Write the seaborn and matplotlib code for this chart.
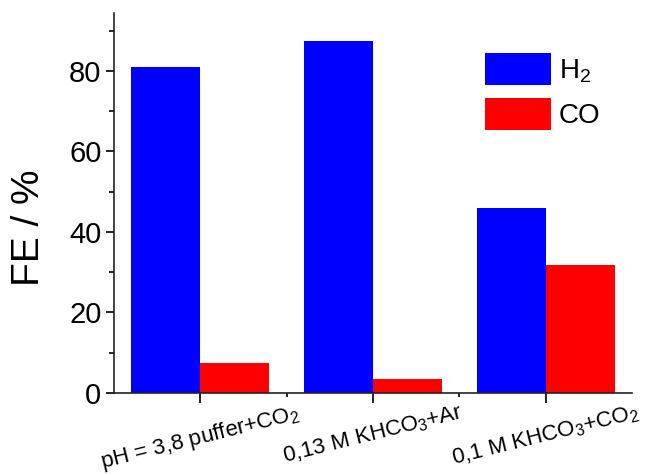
import matplotlib
matplotlib.use("Agg")
import matplotlib.pyplot as plt
import seaborn as sns
import pandas as pd
from matplotlib.ticker import MultipleLocator, FixedLocator

conditions = ["pH = 3,8 puffer+CO$_2$", "0,13 M KHCO$_3$+Ar", "0,1 M KHCO$_3$+CO$_2$"]
h2_values = [81.0, 87.5, 46.0]
co_values = [7.4, 3.5, 31.8]
series_names = ["H$_2$", "CO"]
colors = ["#0000ff", "#ff0000"]

df = pd.DataFrame({
    "condition": conditions * 2,
    "gas": [series_names[0]] * 3 + [series_names[1]] * 3,
    "FE": h2_values + co_values,
})

sns.set_style("ticks")
plt.rcParams["font.family"] = ["Liberation Sans", "DejaVu Sans"]
plt.rcParams["mathtext.default"] = "regular"
plt.rcParams["text.color"] = "black"
plt.rcParams["axes.labelcolor"] = "black"
plt.rcParams["xtick.color"] = "black"
plt.rcParams["ytick.color"] = "black"

fig = plt.figure(figsize=(6.45, 4.75), dpi=100)
ax = fig.add_axes([114 / 645, 1 - 393 / 475, 518 / 645, 380 / 475])

sns.barplot(data=df, x="condition", y="FE", hue="gas", palette=colors,
            saturation=1, width=0.8, edgecolor="none", linewidth=0, ax=ax)

ax.set_xlim(-0.5, 2.5)
ax.set_ylim(0, 94.4)
ax.set_xlabel("")
ax.set_ylabel("FE / %", fontsize=28)
ax.yaxis.set_label_coords(-0.13, 0.434)

ax.yaxis.set_major_locator(MultipleLocator(20))
ax.yaxis.set_minor_locator(MultipleLocator(10))
ax.xaxis.set_minor_locator(FixedLocator([0.5, 1.5]))

ax.tick_params(axis="y", which="major", labelsize=21, length=6, width=1.2, direction="out", pad=3)
ax.tick_params(axis="y", which="minor", length=3.5, width=1.2, direction="out")
ax.tick_params(axis="x", which="major", labelsize=16, length=7, width=1.2, direction="out", pad=-1)
ax.tick_params(axis="x", which="minor", length=3, width=1.2, direction="out")
for lbl in ax.get_xticklabels():
    lbl.set_rotation(14)
    lbl.set_ha("center")

sns.despine(ax=ax)
for s in ["left", "bottom"]:
    ax.spines[s].set_linewidth(1.2)
    ax.spines[s].set_color("#222222")

leg = ax.legend(loc="upper left", bbox_to_anchor=(0.716, 0.895), frameon=False,
                fontsize=20, handlelength=2.37, handleheight=1.42, handletextpad=0.3,
                labelspacing=0.45, borderpad=0, borderaxespad=0)

fig.savefig("out.png", dpi=100)
